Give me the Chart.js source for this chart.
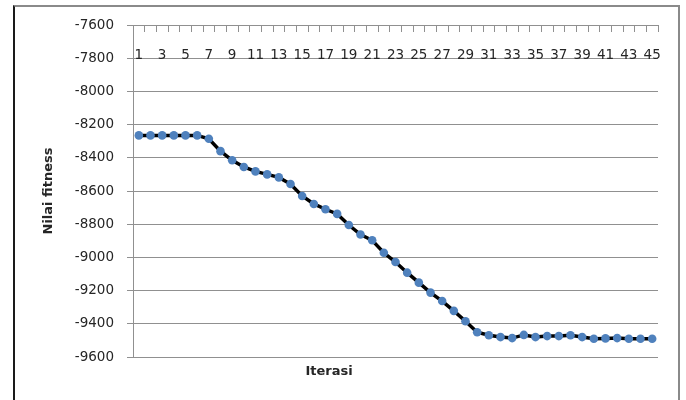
<!DOCTYPE html>
<html>
<head>
<meta charset="utf-8">
<script src="https://cdn.jsdelivr.net/npm/chart.js@4.4.1/dist/chart.umd.min.js"></script>
<style>
  body { margin: 0; background: #fff; }
  #wrap { position: relative; width: 686px; height: 400px; overflow: hidden; }
  #frame {
    position: absolute; left: 13px; top: 5px; width: 663px; height: 420px;
    border-left: 2px solid #1a1a1a; border-top: 2px solid #8a8a8a; border-right: 2px solid #8a8a8a;
  }
  canvas { position: absolute; left: 0; top: 0; }
</style>
</head>
<body>
<div id="wrap">
  <div id="frame"></div>
  <canvas id="chart" width="686" height="400"></canvas>
</div>
<script>
// iterations 1..45
const iterasi = [1, 2, 3, 4, 5, 6, 7, 8, 9, 10, 11, 12, 13, 14, 15, 16, 17, 18, 19, 20,
  21, 22, 23, 24, 25, 26, 27, 28, 29, 30, 31, 32, 33, 34, 35, 36, 37, 38, 39, 40,
  41, 42, 43, 44, 45];

// fitness value per iteration
const nilaiFitness = [-8265, -8265, -8265, -8265, -8265, -8265, -8285, -8360, -8415, -8455,
  -8482, -8500, -8518, -8558, -8630, -8678, -8710, -8738, -8805, -8862,
  -8897, -8972, -9028, -9092, -9152, -9212, -9263, -9322, -9385, -9451,
  -9469, -9480, -9486, -9467, -9480, -9474, -9474, -9469, -9480, -9490,
  -9488, -9486, -9490, -9490, -9490];

// y axis range
const yMin = -9600;
const yMax = -7600;
const yStep = 200;

const gridColor = '#909090';
const textColor = '#262626';
const fontFamily = '"DejaVu Sans", sans-serif';

new Chart(document.getElementById('chart'), {
  type: 'line',
  data: {
    labels: iterasi,
    datasets: [{
      label: 'Nilai fitness',
      data: nilaiFitness,
      borderColor: '#000000',
      borderWidth: 3.5,
      pointBackgroundColor: '#4F81BD',
      pointBorderColor: '#4F81BD',
      pointBorderWidth: 0,
      pointRadius: 4.3,
      tension: 0
    }]
  },
  options: {
    responsive: false,
    animation: false,
    devicePixelRatio: 1,
    layout: { padding: { top: 25, right: 28, left: 0, bottom: 0 } },
    plugins: {
      legend: { display: false },
      tooltip: { enabled: false },
      title: {
        display: true,
        position: 'bottom',
        text: 'Iterasi',
        color: textColor,
        font: { family: fontFamily, size: 13, weight: 'bold' },
        padding: { top: 7.2, bottom: 20.2 }
      }
    },
    scales: {
      x: {
        type: 'category',
        position: { y: yMax },
        offset: true,
        grid: {
          offset: true,
          drawOnChartArea: false,
          drawTicks: true,
          tickLength: 6,
          color: gridColor
        },
        border: { display: true, color: gridColor },
        ticks: {
          autoSkip: false,
          maxRotation: 0,
          minRotation: 0,
          padding: 16,
          color: textColor,
          font: { family: fontFamily, size: 13.5 },
          callback: function(val, i) { return i % 2 === 0 ? String(iterasi[i]) : ''; }
        }
      },
      y: {
        min: yMin,
        max: yMax,
        afterFit: function(scale) { scale.width = 133; },
        grid: {
          color: gridColor,
          drawTicks: true,
          tickLength: 6
        },
        border: { display: true, color: gridColor },
        ticks: {
          stepSize: yStep,
          padding: 13,
          color: textColor,
          font: { family: fontFamily, size: 13.5 },
          callback: function(v) { return String(v); }
        },
        title: {
          display: true,
          text: 'Nilai fitness',
          color: textColor,
          font: { family: fontFamily, size: 13, weight: 'bold' },
          padding: { top: 41, bottom: 0 }
        }
      }
    }
  }
});
</script>
</body>
</html>
